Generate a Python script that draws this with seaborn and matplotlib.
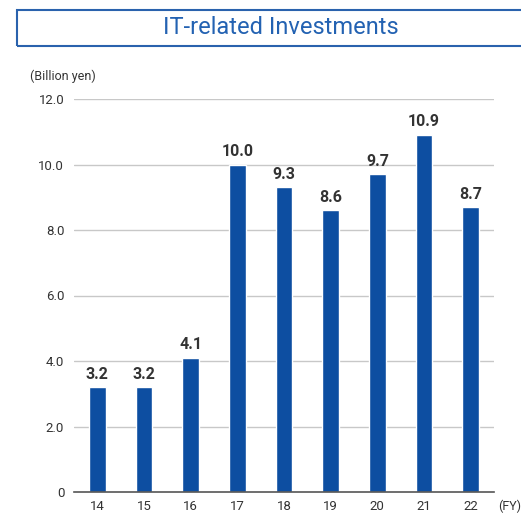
import matplotlib
matplotlib.use("Agg")
import matplotlib.pyplot as plt
import seaborn as sns
import pandas as pd
from matplotlib.patches import Rectangle

years = ["14", "15", "16", "17", "18", "19", "20", "21", "22"]
values = [3.2, 3.2, 4.1, 10.0, 9.3, 8.6, 9.7, 10.9, 8.7]
yticks = [0, 2, 4, 6, 8, 10, 12]
ytick_labels = ["0", "2.0", "4.0", "6.0", "8.0", "10.0", "12.0"]

sns.set_theme(style="white")
plt.rcParams["font.family"] = ["Roboto", "DejaVu Sans"]

df = pd.DataFrame({"year": years, "value": values})

W, H = 521, 513
fig = plt.figure(figsize=(W / 100, H / 100), dpi=100)
ax = fig.add_axes([74 / W, 1 - 492 / H, (494 - 74) / W, (492 - 99) / H])

bar_color = "#0d4ea1"
sns.barplot(data=df, x="year", y="value", color=bar_color, width=0.36,
            saturation=1, ax=ax, zorder=3)

ax.set_xlim(-0.5, 8.5)
ax.set_ylim(0, 12)
ax.set_yticks(yticks)
ax.set_yticklabels(ytick_labels)
ax.set_xlabel("")
ax.set_ylabel("")
for y in yticks[1:]:
    ax.axhline(y, color="#c8c8c8", lw=1.0, zorder=1)
for s in ["top", "right", "left"]:
    ax.spines[s].set_visible(False)
ax.spines["bottom"].set_color("#555555")
ax.spines["bottom"].set_linewidth(1.2)
ax.spines["bottom"].set_zorder(4)
ax.tick_params(axis="both", length=0, labelsize=9.5, colors="#333333")
ax.tick_params(axis="y", pad=7)
ax.tick_params(axis="x", pad=6)

for i, v in enumerate(values):
    ax.annotate(f"{v:.1f}", (i, v), xytext=(0, 4), textcoords="offset points",
                ha="center", va="bottom", fontsize=11.5, fontweight="bold",
                color="#333333")

# title box
fig.patches.append(Rectangle((17 / W, 1 - 46 / H), (W - 17 + 5) / W, 36 / H,
                             transform=fig.transFigure, fill=False,
                             edgecolor="#2a62ad", lw=1.5))
fig.text(281 / W, 1 - 28 / H, "IT-related Investments", ha="center", va="center",
         fontsize=17, color="#2362b2")
fig.text(30 / W, 1 - 76 / H, "(Billion yen)", ha="left", va="center",
         fontsize=9, color="#333333")
fig.text(498 / W, 1 - 506 / H, "(FY)", ha="left", va="center",
         fontsize=9, color="#333333")

fig.savefig("out.png", dpi=100)
